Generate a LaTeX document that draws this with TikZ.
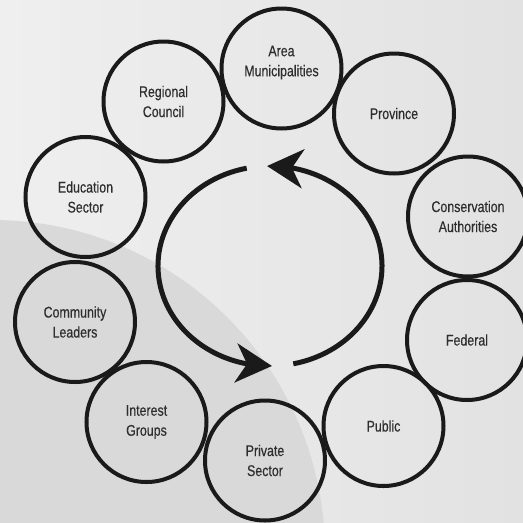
\documentclass[tikz,border=0pt]{standalone}
\usepackage{fontspec}
\setmainfont{Liberation Sans}[FakeStretch=0.8,FakeBold=0.4]
\usetikzlibrary{arrows.meta,bending}
\definecolor{bgleft}{HTML}{EFEFEF}
\definecolor{bgright}{HTML}{E2E2E2}
\definecolor{bgdark}{HTML}{D9D9D9}
\definecolor{ringline}{HTML}{1A1A1A}
\definecolor{labeltext}{HTML}{2E2E2E}
\tikzset{actor node/.style={circle,draw=ringline,line width=4pt,minimum size=120pt,inner sep=0pt,
		align=center,text=labeltext,font=\fontsize{15.5}{20}\selectfont},
}

\begin{document}
\begin{tikzpicture}[x=1pt,y=-1pt,>={Stealth[length=36pt,width=39pt,inset=11pt]},
		cycle arrow/.style={draw=ringline,line width=5pt}]
		
		% background
		\useasboundingbox (0,0) rectangle (523,523);
		\shade[left color=bgleft,right color=bgright] (0,0) rectangle (523,523);
		\begin{scope}
			\clip (0,0) rectangle (523,523);
			\fill[bgdark] (-8,553) circle[radius=333];
		\end{scope}
		
		% stakeholders
		\node[actor node, label={[align=center,text=labeltext,font=\fontsize{15.5}{20}\selectfont,yshift=6pt]center:{Area\\Municipalities}}] (area) at (281.5,68.5) {};
		\node[actor node] (prov) at (394,113.5) {Province};
		\node[actor node] (cons) at (468,216.5) {Conservation\\Authorities};
		\node[actor node] (fed) at (467,340) {Federal};
		\node[actor node] (pub) at (383.5,426) {Public};
		\node[actor node] (priv) at (265,460.5) {Private\\Sector};
		\node[actor node] (inter) at (146.5,422) {Interest\\Groups};
		\node[actor node] (comm) at (75,322) {Community\\Leaders};
		\node[actor node] (edu) at (85.5,197) {Education\\Sector};
		\node[actor node] (reg) at (163.5,101.5) {Regional\\Council};
		
		% cycle
		\coordinate (hub) at (270,266);
		\draw[cycle arrow,->] (hub) ++(258:112 and 100) arc[start angle=258,end angle=89,x radius=112,y radius=100];
		\draw[cycle arrow,->] (hub) ++(78:112 and 100) arc[start angle=78,end angle=-91.5,x radius=112,y radius=100];
		
\end{tikzpicture}
\end{document}
